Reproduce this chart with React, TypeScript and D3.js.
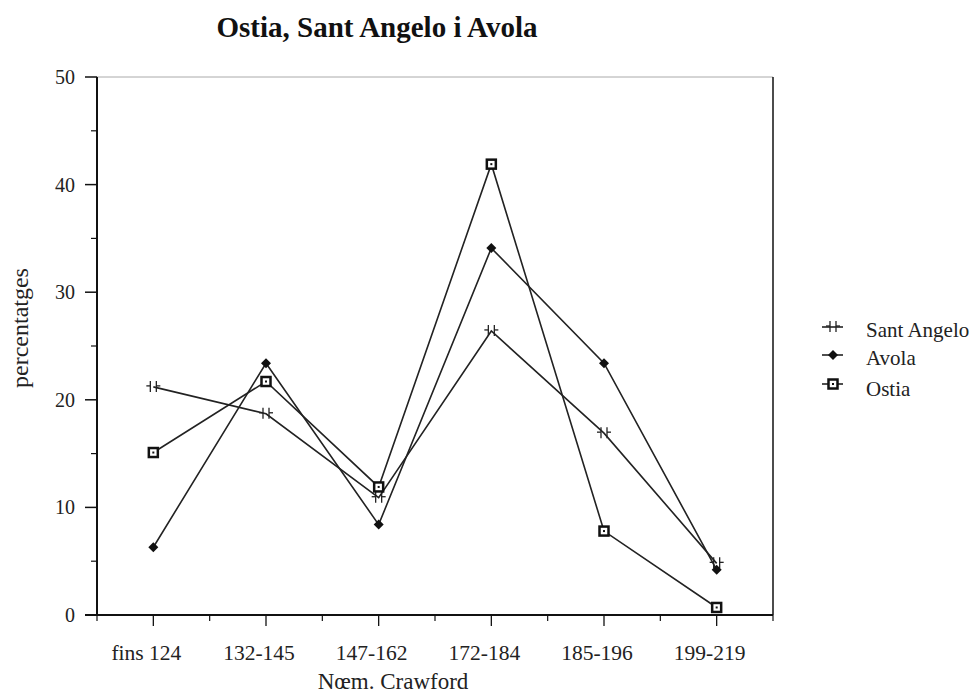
import React from "react";
import * as d3 from "d3";

const categories = ["fins 124", "132-145", "147-162", "172-184", "185-196", "199-219"];
const santAngelo = [21.2, 18.7, 10.9, 26.4, 16.9, 4.8];
const avola = [6.3, 23.4, 8.4, 34.1, 23.4, 4.2];
const ostia = [15.1, 21.7, 11.9, 41.9, 7.8, 0.7];
const yTicks = [0, 10, 20, 30, 40, 50];
const yMinorTicks = [5, 15, 25, 35, 45];
const seriesNames = ["Sant Angelo", "Avola", "Ostia"];

const W = 976, H = 694;
const left = 97, right = 773, top = 77, bottom = 615;
const FONT = "'Liberation Serif', 'Times New Roman', serif";

function Marker({ type, x, y }: { type: string; x: number; y: number }) {
  if (type === "Sant Angelo") {
    return (
      <g stroke="#222" strokeWidth={1.3} fill="none">
        <line x1={x - 3} y1={y - 6} x2={x - 3} y2={y + 5} />
        <line x1={x + 3} y1={y - 6} x2={x + 3} y2={y + 5} />
        <line x1={x - 7} y1={y - 1} x2={x - 3} y2={y - 1} />
        <line x1={x + 3} y1={y - 1} x2={x + 7} y2={y - 1} />
      </g>
    );
  }
  if (type === "Avola") {
    const s = 5;
    return <path d={`M${x},${y - s}L${x + s},${y}L${x},${y + s}L${x - s},${y}Z`} fill="#111" />;
  }
  return (
    <g>
      <rect x={x - 4.5} y={y - 4.5} width={9} height={9} fill="#fff" stroke="#111" strokeWidth={2.5} />
      <rect x={x - 1} y={y - 1} width={2} height={2} fill="#111" />
    </g>
  );
}

export default function App() {
  const x = d3.scaleBand<string>().domain(categories).range([left, right]);
  const y = d3.scaleLinear().domain([0, 50]).range([bottom, top]);
  const cx = (c: string) => (x(c) as number) + x.bandwidth() / 2;
  const line = d3
    .line<number>()
    .x((_, i) => cx(categories[i]))
    .y((d) => y(d));
  const data: [string, number[]][] = [
    ["Sant Angelo", santAngelo],
    ["Avola", avola],
    ["Ostia", ostia],
  ];
  const halfTicks: number[] = categories.map((c) => x(c) as number);
  halfTicks.push(right);

  const legendY = [327, 355, 384];
  const legendTextY = [337, 365, 396];

  return (
    <svg width={W} height={H} style={{ position: "absolute", left: 0, top: 0, background: "#fff" }} fontFamily={FONT}>
      <rect width={W} height={H} fill="#fff" />
      <text x={377} y={37} textAnchor="middle" fontSize={29} fontWeight="bold" fill="#111">
        Ostia, Sant Angelo i Avola
      </text>
      {/* frame */}
      <line x1={left} y1={top} x2={right} y2={top} stroke="#aaa" strokeWidth={1} />
      <line x1={right} y1={top} x2={right} y2={bottom} stroke="#111" strokeWidth={1.5} />
      <line x1={left} y1={top} x2={left} y2={bottom} stroke="#111" strokeWidth={2} />
      <line x1={left - 12} y1={bottom} x2={right} y2={bottom} stroke="#111" strokeWidth={2} />
      {/* y ticks */}
      {yTicks.map((t) => (
        <g key={t}>
          <line x1={left - 12} x2={left} y1={y(t)} y2={y(t)} stroke="#111" strokeWidth={1.5} />
          <text x={left - 22} y={y(t) + 7} textAnchor="end" fontSize={20} fill="#222">
            {t}
          </text>
        </g>
      ))}
      {yMinorTicks.map((t) => (
        <line key={t} x1={left - 6} x2={left} y1={y(t)} y2={y(t)} stroke="#111" strokeWidth={1.2} />
      ))}
      {/* x ticks */}
      {halfTicks.map((t, i) => (
        <line key={"b" + i} x1={t} x2={t} y1={bottom} y2={bottom + 6} stroke="#111" strokeWidth={1.2} />
      ))}
      {categories.map((c) => (
        <g key={c}>
          <line x1={cx(c)} x2={cx(c)} y1={bottom} y2={bottom + 11} stroke="#111" strokeWidth={1.3} />
          <text x={cx(c) - 7} y={bottom + 45} textAnchor="middle" fontSize={21.5} fill="#222">
            {c}
          </text>
        </g>
      ))}
      <text x={393} y={689} textAnchor="middle" fontSize={23} fill="#222">
        Nœm. Crawford
      </text>
      <text
        transform={`translate(28, 328) rotate(-90)`}
        textAnchor="middle"
        fontSize={24}
        fill="#222"
      >
        percentatges
      </text>
      {/* lines */}
      {data.map(([name, vals]) => (
        <path key={name} d={line(vals) as string} fill="none" stroke="#222" strokeWidth={1.6} />
      ))}
      {data.map(([name, vals]) =>
        vals.map((v, i) => <Marker key={name + i} type={name} x={cx(categories[i])} y={y(v)} />)
      )}
      {/* legend */}
      {seriesNames.map((n, i) => {
        const ly = legendY[i];
        return (
          <g key={n}>
            <line x1={822} x2={843} y1={ly} y2={ly} stroke="#222" strokeWidth={1.6} />
            <Marker type={n} x={833} y={ly} />
            <text x={866} y={legendTextY[i]} fontSize={21} fill="#222">
              {n}
            </text>
          </g>
        );
      })}
    </svg>
  );
}
